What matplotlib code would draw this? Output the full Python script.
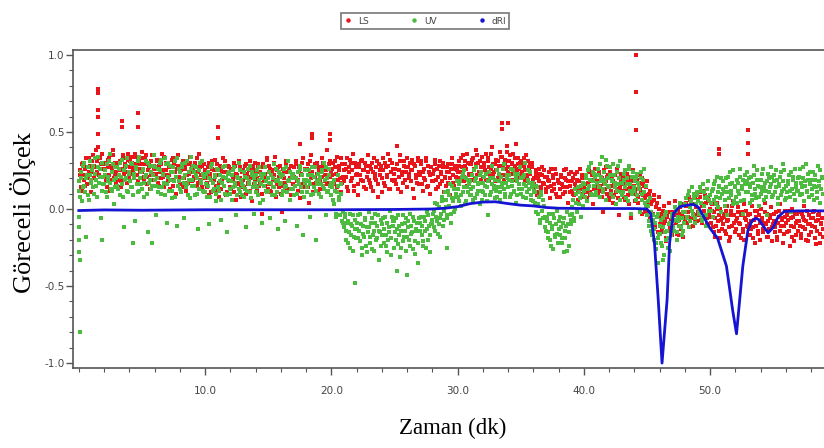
import numpy as np
import matplotlib
matplotlib.use("Agg")
import matplotlib.pyplot as plt
from matplotlib.lines import Line2D
from matplotlib.ticker import MultipleLocator

# ---------------- data (values in hundredths, one value per 0.1 min, two readings per step) ----------------
ls_00_10 = [18,25,12,30,22,15,27,20,33,17, 24,35,28,19,31,40,22,29,36,26,
            21,30,14,27,33,19,25,38,23,16, 28,22,31,18,26,35,29,20,24,32,
            27,34,30,25,36,29,22,31,26,33, 24,18,29,35,21,27,13,31,23,28,
            19,26,32,15,24,29,21,34,17,25, 30,22,13,27,33,19,24,10,28,21,
            16,25,31,20,27,12,29,23,34,18, 26,21,30,15,24,36,19,28,22,11]
ls_10_20 = [20,14,27,9,23,31,17,25,12,29, 22,8,26,19,33,15,24,11,28,18,
            13,25,20,30,6,22,17,27,14,24, 19,28,10,23,16,31,21,5,26,18,
            24,12,29,17,22,-3,27,15,20,32, 16,26,11,23,30,19,8,25,14,28,
            21,-2,24,17,29,12,26,20,9,23, 27,15,31,19,24,7,22,33,14,26,
            18,29,4,23,35,16,27,21,30,12, 25,19,33,14,28,22,38,17,26,31]
ls_20_30 = [22,30,16,27,34,19,25,11,29,21, 18,26,33,12,24,30,20,36,15,27,
            23,9,29,19,32,25,14,28,21,35, 17,26,30,12,23,19,31,8,25,28,
            20,33,15,27,22,36,13,24,30,18, 26,16,29,21,35,11,24,31,19,27,
            14,23,30,18,25,7,28,20,33,16, 22,29,12,26,19,31,15,24,10,27,
            18,25,32,13,21,28,16,23,30,11, 20,27,17,24,9,29,22,15,26,19]
ls_30_40 = [24,31,18,27,35,21,28,15,30,23, 29,19,33,25,38,22,30,17,27,34,
            21,28,36,24,31,18,26,40,23,29, 32,25,20,37,28,34,22,30,26,41,
            27,35,23,30,19,33,42,25,29,21, 31,24,28,18,35,22,26,30,17,27,
            20,14,25,9,18,23,12,27,16,21, 11,19,24,7,15,22,13,26,10,18,
            17,8,21,14,25,11,19,4,23,15, 12,20,9,16,24,6,18,13,22,10]
ls_40_50 = [14,21,7,17,25,11,19,3,23,13, 18,9,24,12,20,-2,16,27,10,22,
            8,15,21,4,17,11,26,13,-4,19, 12,20,6,16,23,9,14,-6,18,10,
            5,13,19,8,22,11,-3,16,7,14, 9,-2,12,3,-8,6,-12,1,-5,8,
            -10,-3,-15,2,-8,-19,-5,4,-12,-7, -2,-14,5,-9,-4,-17,1,-11,-6,3,
            -8,2,-5,8,-12,4,-3,10,-7,1, 6,-4,11,-9,3,-1,9,-6,5,-3]
ls_50_59 = [-5,3,-12,-2,-18,4,-8,-14,0,-6, -10,-3,-16,2,-7,-21,-1,-11,5,-4,
            -13,-6,1,-9,-19,-2,-15,3,-7,-11, -4,-17,-8,2,-12,-22,-5,-1,-14,-9,
            0,-7,-13,4,-10,-3,-18,-6,1,-12, -8,-15,-2,-20,-5,3,-11,-7,-16,-1,
            -9,-4,-14,-24,-6,0,-12,-3,-17,-8, -2,-11,-19,-5,2,-13,-8,-21,-4,-10,
            -15,-6,-1,-12,-23,-7,-3,-16,-9,-18]

ls_b_00_10 = [22,14,29,19,26,33,16,24,28,11, 31,20,27,38,24,17,33,26,21,29,
              26,18,32,22,12,28,35,20,30,24, 19,30,25,14,33,23,27,17,36,21,
              31,23,28,20,34,26,18,29,24,37, 29,21,33,16,25,30,22,35,19,26,
              23,31,17,28,20,36,25,14,30,22, 18,27,24,32,15,29,21,26,35,16,
              28,20,14,26,31,22,17,30,24,27, 19,30,24,33,17,27,22,14,29,25]
ls_b_10_20 = [24,17,30,21,11,26,19,32,15,22, 17,28,13,24,20,31,9,23,27,14,
              26,19,11,28,23,16,31,20,8,25, 14,23,29,17,25,12,20,28,16,30,
              20,27,15,24,10,29,18,23,33,13, 28,12,25,19,22,34,16,27,21,10,
              15,26,20,31,13,24,18,28,22,16, 21,29,18,12,27,23,30,16,25,19,
              26,14,31,20,24,11,29,17,23,27, 13,27,21,30,18,25,16,29,21,24]
ls_b_20_30 = [26,18,31,23,14,28,20,33,17,25, 29,21,14,27,32,18,25,12,30,22,
              16,27,22,31,18,25,30,13,24,19, 28,14,24,33,20,27,16,29,22,11,
              25,17,30,21,28,13,32,19,26,23, 19,29,13,25,31,22,17,28,24,33,
              27,20,25,32,13,29,22,17,31,24, 31,16,24,20,33,14,28,22,27,18,
              23,29,19,26,14,31,24,18,27,21, 15,24,29,20,26,33,17,28,21,25]
ls_b_30_40 = [28,20,33,24,18,31,26,36,22,29, 23,32,26,20,29,35,24,31,19,27,
              30,25,19,33,27,22,36,29,24,18, 25,31,28,22,34,27,19,32,37,24,
              31,23,29,36,25,28,21,33,26,30, 22,29,33,25,20,31,27,23,30,19,
              16,23,11,20,26,14,22,17,25,13, 21,14,18,26,12,20,16,23,8,19,
              13,22,16,10,20,26,14,18,11,24, 18,10,23,14,19,12,26,15,20,8]
ls_b_40_50 = [20,11,16,24,9,18,22,13,26,15, 12,23,15,19,8,25,13,18,21,6,
              24,12,18,9,22,16,7,20,14,23, 16,8,22,13,19,3,21,11,25,15,
              11,19,4,17,13,20,9,15,-2,18, 3,10,-6,5,-3,9,-9,4,-15,0,
              -5,-13,-1,-9,-21,-4,-14,-2,-10,-17, -11,-4,-8,-16,-1,-7,-13,-3,-18,-5,
              4,-9,-2,6,-6,3,-11,7,-4,-8, -2,8,-7,2,12,-5,4,-10,7,0]
ls_b_50_59 = [-9,-1,-15,-6,-11,0,-4,-19,-7,-13, -5,-14,-1,-8,-12,-18,-4,2,-9,-15,
              -8,-2,-17,-10,-4,-13,-20,-6,-1,-12, -10,-3,-13,-19,-7,-1,-11,-16,-4,-20,
              -6,-15,-9,-2,-18,-8,-13,-4,-21,-10, -3,-12,-18,-9,-1,-14,-6,-22,-11,-5,
              -15,-7,-1,-11,-18,-5,-21,-9,-3,-14, -8,-16,-3,-12,-7,-20,-1,-10,-17,-6,
              -11,-2,-19,-8,-14,-4,-22,-10,-6,-13]

uv_00_10 = [12,20,5,28,15,-18,22,9,31,17, 25,14,33,19,8,27,21,-6,30,16,
            22,11,29,18,36,13,24,3,27,20, 15,26,9,21,32,-12,19,28,12,24,
            18,30,14,23,-8,27,11,34,20,16, 25,8,21,31,-15,17,28,13,22,35,
            19,-4,26,14,30,10,23,17,33,-9, 21,12,28,7,24,18,31,-11,15,26,
            13,27,20,-6,30,16,9,24,34,19, 28,15,22,10,-13,25,18,31,12,21]
uv_10_20 = [16,8,24,-10,19,29,12,21,5,26, 14,22,-7,17,27,10,20,-15,23,13,
            18,6,25,15,-4,21,30,11,19,9, 24,13,-12,20,16,28,7,22,-3,17,
            11,25,19,4,23,-9,15,27,12,20, 17,-6,22,14,29,9,18,-13,24,16,
            21,12,26,-8,15,31,19,6,23,13, 9,20,-11,24,16,28,11,-17,19,25,
            14,22,18,-5,27,10,21,-20,16,23, 19,8,25,15,30,-4,20,12,26,17]
uv_20_30 = [14,6,19,-3,11,22,8,16,-8,-2, -5,-14,-9,-22,-3,-17,-11,-27,-7,-19,
            -13,-4,-21,-10,-30,-16,-6,-24,-12,-2, -18,-9,-26,-14,-3,-20,-11,-33,-15,-7,
            -10,-22,-5,-17,-28,-12,-1,-19,-8,-25, -15,-6,-23,-11,-31,-14,-4,-18,-9,-27,
            -12,-20,-3,-16,-26,-8,-21,-13,-35,-6, -9,-17,-24,-5,-14,-2,-20,-11,-28,-7,
            -3,-12,4,-8,-16,1,-6,8,-11,-1, 6,-4,12,2,-9,15,5,-2,10,18]
uv_30_40 = [8,16,2,21,11,25,5,14,19,9, 13,22,6,18,27,10,16,3,24,12,
            17,9,23,14,-4,20,11,28,15,7, 12,25,18,6,21,14,29,10,17,22,
            19,8,26,15,11,23,4,18,13,27, 10,21,16,30,7,19,13,24,9,17,
            12,4,15,-3,8,-9,11,-6,2,-12, -8,-15,-3,-20,-11,-26,-6,-17,-1,-22,
            -13,-5,-19,-9,-28,-14,-2,-10,-24,-7, -3,6,-8,10,-1,14,3,-5,9,17]
uv_40_50 = [12,20,5,25,15,30,9,18,23,11, 17,26,8,21,34,13,19,6,28,15,
            22,10,18,29,14,3,24,16,31,11, 9,19,25,7,16,28,12,-3,21,14,
            18,6,23,13,-2,20,10,26,4,15, 2,-8,7,-14,-4,-20,-9,-26,-3,-16,
            -11,-22,-6,-30,-15,-2,-19,-10,-27,-5, -8,-14,1,-20,-5,-11,4,-17,-2,-9,
            3,-6,9,-12,1,14,-4,7,-9,11, 5,-3,12,-8,16,2,-11,8,18,-1]
uv_50_59 = [4,12,-5,16,8,21,1,14,-2,10, 13,6,20,-4,11,24,9,17,3,15,
            8,19,12,26,5,15,-3,22,11,18, 16,4,21,9,28,13,7,19,2,14,
            10,23,6,17,12,-4,20,14,27,8, 18,11,25,3,15,21,9,29,13,6,
            7,16,22,12,-2,19,10,26,14,20, 21,9,14,27,5,18,12,23,8,16,
            13,24,6,19,11,28,15,4,20,10]

uv_b_00_10 = [18,8,24,14,30,11,20,27,6,22, 19,28,10,23,15,34,17,26,12,21,
              16,25,8,21,31,17,12,29,19,14, 27,13,22,30,16,8,25,20,33,11,
              23,14,29,9,20,26,16,31,12,24, 13,26,17,22,10,30,19,24,15,28,
              27,15,20,11,25,32,14,22,9,29, 16,30,19,24,12,27,8,21,33,18,
              24,11,29,17,22,14,31,19,7,26, 15,24,9,27,20,13,30,17,23,11]
uv_b_10_20 = [11,23,15,20,8,27,17,13,22,10, 25,12,18,6,21,15,28,9,19,24,
              10,22,14,27,17,9,20,13,25,16, 15,8,21,12,26,18,11,24,14,20,
              22,14,9,27,16,20,6,23,18,11, 12,24,17,9,20,14,26,11,19,23,
              17,9,22,14,27,11,18,24,13,20, 23,15,20,10,18,26,14,22,8,17,
              19,11,25,16,9,22,14,27,12,18, 10,21,16,24,13,19,27,11,22,15]
uv_b_20_30 = [9,17,3,12,-5,15,6,-4,10,-9, -12,-3,-20,-8,-15,-25,-10,-4,-18,-13,
              -9,-19,-14,-3,-25,-11,-18,-7,-28,-15, -12,-22,-6,-17,-27,-9,-19,-4,-14,-24,
              -17,-6,-13,-24,-9,-20,-15,-30,-5,-11, -8,-20,-13,-4,-17,-25,-10,-21,-14,-6,
              -18,-8,-24,-11,-15,-5,-29,-14,-9,-22, -14,-5,-11,-21,-8,-25,-13,-4,-17,-10,
              -9,-1,-14,-5,3,-10,-18,-3,5,-7, 11,1,-6,9,16,-3,7,13,0,8]
uv_b_30_40 = [13,5,18,9,23,14,3,20,11,16, 18,9,14,25,7,20,12,17,22,6,
              11,21,15,5,18,24,9,16,20,13, 19,8,14,23,11,17,26,13,8,20,
              14,22,10,18,25,12,20,9,23,16, 20,13,8,22,15,11,25,17,6,14,
              5,11,-2,14,3,-7,9,-1,6,-5, -14,-5,-19,-9,-24,-13,-3,-18,-10,-16,
              -8,-17,-12,-22,-6,-19,-11,-27,-15,-4, -10,1,-6,13,4,-2,11,7,15,2]
uv_b_40_50 = [16,8,22,13,27,19,10,24,15,21, 9,22,14,29,18,11,24,16,32,20,
              14,27,19,8,22,17,12,28,20,6, 17,11,23,14,20,5,26,16,10,24,
              12,21,9,17,14,24,6,19,11,2, -4,5,-11,-2,-17,-7,-13,-22,-5,-19,
              -16,-7,-24,-12,-4,-20,-14,-25,-9,-17, -3,-12,-7,-1,-15,-8,2,-12,-6,-14,
              -2,7,-5,12,-8,5,-1,10,-6,3, 9,-1,14,4,-6,11,7,-4,13,6]
uv_b_50_59 = [9,-1,13,6,18,3,11,15,7,20, 18,11,2,14,21,7,16,12,25,5,
              14,4,17,10,21,13,19,6,16,24, 11,20,14,6,17,22,10,25,15,8,
              19,12,26,14,8,18,23,11,16,21, 9,22,14,19,7,16,24,12,18,25,
              15,11,18,8,24,13,21,6,17,12, 12,26,17,10,20,15,29,11,19,24,
              19,9,15,22,14,7,18,25,13,21]

# isolated outlier points (time, value)
ls_out_t = [1.5,1.5,1.5,1.5,1.5,3.4,3.4,4.7,4.7,11.0,11.0,17.5,18.5,18.5,19.9,19.9,25.2,
            33.5,33.5,34.0,44.1,44.1,44.1,50.7,50.7,53.0,53.0,53.0]
ls_out_v = [0.78,0.75,0.64,0.60,0.49,0.57,0.53,0.62,0.53,0.53,0.46,0.42,0.49,0.46,0.49,0.45,0.41,
            0.56,0.52,0.56,1.00,0.76,0.51,0.39,0.36,0.51,0.43,0.36]
uv_out_t = [0.0,0.0,0.0,0.0,0.1,0.1,1.8,4.3,5.8,21.9,25.2,26.0,29.2,45.9,46.3]
uv_out_v = [-0.05,-0.12,-0.2,-0.28,-0.33,-0.80,-0.20,-0.22,-0.22,-0.48,-0.40,-0.43,-0.25,-0.35,-0.33]

dri_t = [0,2,5,10,15,20,25,28,29,30,31,32,33,34,35,36,37,38,40,42,44,45,45.3,45.6,45.9,46.2,
         46.6,46.8,47.1,47.6,48.2,48.7,49.1,49.5,50.0,50.6,51.3,51.8,52.1,52.6,53.0,53.3,53.6,
         53.9,54.3,54.6,55.0,55.4,55.9,57,59]
dri_v = [-0.01,-0.006,-0.008,-0.005,-0.005,-0.005,-0.003,0.0,0.005,0.015,0.035,0.045,0.047,0.035,
         0.025,0.02,0.01,0.005,0.003,0.003,0.003,0.0,-0.03,-0.22,-0.59,-1.0,-0.59,-0.22,-0.03,0.015,
         0.025,0.03,0.01,-0.05,-0.125,-0.19,-0.37,-0.66,-0.81,-0.37,-0.14,-0.08,-0.06,-0.07,-0.12,
         -0.155,-0.12,-0.05,-0.015,-0.012,-0.012]

series_names = ["LS", "UV", "dRI"]
colors = {"LS": "#e8151b", "UV": "#4cbb3f", "dRI": "#1414d2"}

def build(segments, starts, offset):
    t, v = [], []
    for seg, s in zip(segments, starts):
        t.extend(s + 0.1 * np.arange(len(seg)) + offset)
        v.extend(np.array(seg) / 100.0)
    return np.array(t), np.array(v)

starts = [0, 10, 20, 30, 40, 50]
ls_t, ls_v = build([ls_00_10, ls_10_20, ls_20_30, ls_30_40, ls_40_50, ls_50_59], starts, 0.03)
ls_bt, ls_bv = build([ls_b_00_10, ls_b_10_20, ls_b_20_30, ls_b_30_40, ls_b_40_50, ls_b_50_59], starts, 0.08)
uv_t, uv_v = build([uv_00_10, uv_10_20, uv_20_30, uv_30_40, uv_40_50, uv_50_59], starts, 0.05)
uv_bt, uv_bv = build([uv_b_00_10, uv_b_10_20, uv_b_20_30, uv_b_30_40, uv_b_40_50, uv_b_50_59], starts, 0.0)

# ---------------- figure ----------------
fig = plt.figure(figsize=(8.24, 4.48), dpi=100)
ax = fig.add_axes([73/824, 1 - 368/448, 1 - 73/824, (368 - 50)/448])

ms = 6
kw = dict(s=ms, marker="s", linewidths=0)
ax.scatter(ls_t, ls_v, color=colors["LS"], zorder=2, **kw)
ax.scatter(ls_bt, ls_bv, color=colors["LS"], zorder=2.1, **kw)
ax.scatter(ls_out_t, ls_out_v, color=colors["LS"], zorder=2.2, **kw)
ax.scatter(uv_t, uv_v, color=colors["UV"], zorder=2.3, **kw)
ax.scatter(uv_bt, uv_bv, color=colors["UV"], zorder=2.4, **kw)
ax.scatter(uv_out_t, uv_out_v, color=colors["UV"], zorder=2.5, **kw)
ax.plot(dri_t, dri_v, color=colors["dRI"], lw=2.0, zorder=4)

ax.set_xlim(-0.46, 59.03)
ax.set_ylim(-1.032, 1.032)

ax.xaxis.set_minor_locator(MultipleLocator(2))
ax.yaxis.set_minor_locator(MultipleLocator(0.1))
ax.set_xticks([10, 20, 30, 40, 50])
ax.set_xticklabels(["10.0", "20.0", "30.0", "40.0", "50.0"])
ax.set_yticks([-1.0, -0.5, 0.0, 0.5, 1.0])
ax.set_yticklabels(["-1.0", "-0.5", "0.0", "0.5", "1.0"])

spine_c = "#555555"
for side in ["left", "bottom", "top"]:
    ax.spines[side].set_color(spine_c)
    ax.spines[side].set_linewidth(1.2)
ax.spines["right"].set_visible(False)
ax.tick_params(axis="both", which="major", length=5, width=1, color=spine_c,
               labelsize=7.5, labelcolor="#444444", direction="out")
ax.tick_params(axis="both", which="minor", length=3, width=0.8, color=spine_c, direction="out")
ax.tick_params(axis="x", pad=8)
ax.tick_params(axis="y", pad=1)

serif = ["Liberation Serif", "DejaVu Serif"]
fig.text(23/824, 1 - 213/448, "Göreceli Ölçek", rotation=90, ha="center", va="center",
         fontsize=19, family=serif)
fig.text(453/824, 1 - 428/448, "Zaman (dk)", ha="center", va="center",
         fontsize=16.5, family=serif)

handles = [Line2D([], [], ls="none", marker="o", ms=2.2, color=colors[n]) for n in series_names]
leg = fig.legend(handles, series_names, loc="center", bbox_to_anchor=(425/824, 1 - 21/448),
                 ncol=3, fontsize=6.5, frameon=True, fancybox=False, columnspacing=4.5,
                 handletextpad=0.6, handlelength=1.0, borderpad=0.35)
leg.get_frame().set_edgecolor("#555555")
leg.get_frame().set_linewidth(1.2)
for txt in leg.get_texts():
    txt.set_color("#444444")

fig.savefig("out.png", dpi=100)
